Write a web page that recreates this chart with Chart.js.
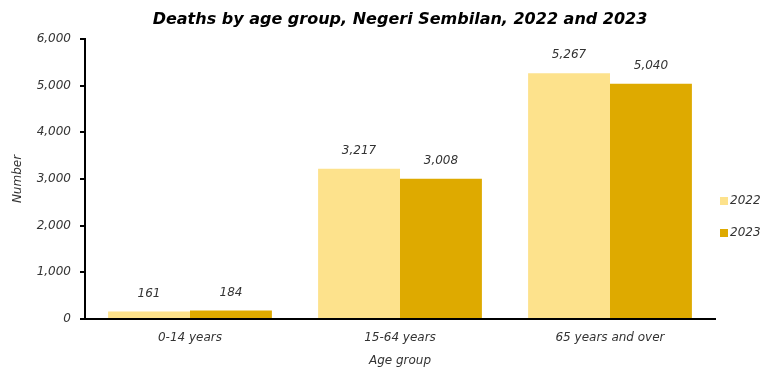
<!DOCTYPE html>
<html><head><meta charset="utf-8">
<script src="https://cdn.jsdelivr.net/npm/chart.js@4/dist/chart.umd.min.js"></script>
<style>html,body{margin:0;padding:0;background:#fff}#w{width:760px;height:368px}</style>
</head><body><div id="w"><canvas id="c" width="760" height="368"></canvas></div>
<script>
const categories = ['0-14 years', '15-64 years', '65 years and over'];
const seriesNames = ['2022', '2023'];
const values2022 = [161, 3217, 5267];
const values2023 = [184, 3008, 5040];
const yTicks = [0, 1000, 2000, 3000, 4000, 5000, 6000];
const titleText = 'Deaths by age group, Negeri Sembilan, 2022 and 2023';
const colors = ['#FDE28C', '#DEAA00'];
const FONT = "'DejaVu Sans', sans-serif";
const TXT = '#333333';

const overlay = {
  id: 'overlay',
  afterDatasetsDraw(chart) {
    const ctx = chart.ctx;
    ctx.save();
    // data labels
    ctx.font = 'italic 12px ' + FONT;
    ctx.fillStyle = TXT;
    ctx.textAlign = 'center';
    ctx.textBaseline = 'middle';
    chart.data.datasets.forEach((ds, i) => {
      chart.getDatasetMeta(i).data.forEach((bar, j) => {
        ctx.fillText(ds.data[j].toLocaleString('en-US'), bar.x, bar.y - 18);
      });
    });
    // title centered over plot area
    const ca = chart.chartArea;
    ctx.font = 'italic bold 16px ' + FONT;
    ctx.fillStyle = '#000';
    ctx.fillText(titleText, (ca.left + ca.right) / 2, 20);
    // legend
    ctx.font = 'italic 12px ' + FONT;
    ctx.textAlign = 'left';
    const ys = [201, 233];
    chart.data.datasets.forEach((ds, i) => {
      ctx.fillStyle = ds.backgroundColor;
      ctx.fillRect(720, ys[i] - 4, 8, 8);
      ctx.fillStyle = TXT;
      ctx.fillText(ds.label, 730, ys[i]);
    });
    ctx.restore();
  }
};

new Chart(document.getElementById('c'), {
  type: 'bar',
  data: {
    labels: categories,
    datasets: [
      { label: seriesNames[0], data: values2022, backgroundColor: colors[0] },
      { label: seriesNames[1], data: values2023, backgroundColor: colors[1] }
    ]
  },
  options: {
    responsive: false,
    animation: false,
    devicePixelRatio: 1,
    layout: { padding: { top: 39, right: 45, left: 0, bottom: 0 } },
    datasets: { bar: { categoryPercentage: 0.78, barPercentage: 1 } },
    plugins: { legend: { display: false }, title: { display: false }, tooltip: { enabled: false } },
    scales: {
      x: {
        afterFit(s) { s.height = 49; },
        grid: { display: false, drawTicks: false },
        border: { display: true, color: '#000', width: 2 },
        ticks: { padding: 12, color: TXT, font: { family: FONT, size: 12, style: 'italic' } },
        title: { display: true, text: 'Age group', color: TXT, padding: { top: 0, bottom: 0 },
                 font: { family: FONT, size: 12, style: 'italic' } }
      },
      y: {
        min: 0, max: 6000,
        afterFit(s) { s.width = 85; },
        afterBuildTicks(s) { s.ticks = yTicks.map(v => ({ value: v })); },
        grid: { drawOnChartArea: false, drawTicks: true, tickLength: 5, color: '#000', lineWidth: 2 },
        border: { display: true, color: '#000', width: 2 },
        ticks: { padding: 9, color: TXT, font: { family: FONT, size: 12, style: 'italic' },
                 callback: v => v.toLocaleString('en-US') },
        title: { display: true, text: 'Number', color: TXT, padding: { top: 11, bottom: 0 },
                 font: { family: FONT, size: 12, style: 'italic' } }
      }
    }
  },
  plugins: [overlay]
});
</script></body></html>
